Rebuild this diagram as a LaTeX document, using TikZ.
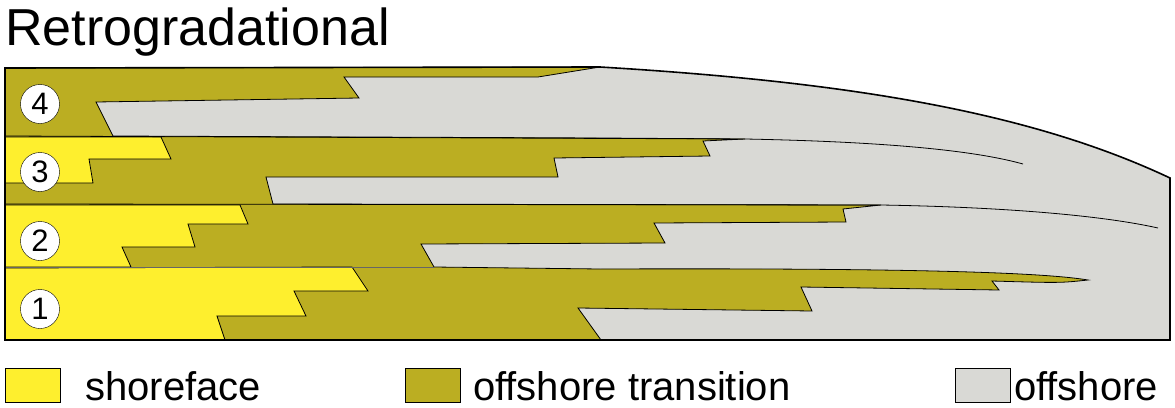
\documentclass[tikz,border=0pt]{standalone}
\usepackage{fontspec}
\setmainfont{Liberation Sans}
\usepackage{tikz}
\usetikzlibrary{calc}
\definecolor{shoreY}{HTML}{FEEF2E}
\definecolor{transO}{HTML}{BBAE22}
\definecolor{offG}{HTML}{D9D9D5}

\begin{document}
\begin{tikzpicture}[x=1pt,y=-1pt,
		unit/.style={circle,draw,fill=white,inner sep=0pt,minimum size=39pt,font=\fontsize{31}{31}\selectfont},
		legbox/.style={draw,line width=0.8pt},
		legtext/.style={anchor=west,inner sep=0pt,font=\fontsize{40}{40}\selectfont}]
	\useasboundingbox (0,0) rectangle (1175,407);
	\node[anchor=base west,inner sep=0pt,font=\fontsize{52}{52}\selectfont] (title) at (5,45) {Retrogradational};
	% offshore, the whole body
	\fill[offG] (5,68) -- (600,67) .. controls (850,82) and (1030,112) .. (1170,178) -- (1170,340) -- (5,340) -- cycle;
	% offshore transition
	\draw[fill=transO,line width=0.8pt] (5,68) -- (600,67) -- (538,77) -- (344,77) -- (359,98) -- (96,102) -- (113,136)
		-- (600,138) -- (745,139) -- (703,141) -- (710,156) -- (554,158) -- (558,177) -- (266,177) -- (273,204)
		-- (881,205) -- (843,209) -- (846,222) -- (654,223) -- (665,243) -- (421,244) -- (434,267)
		-- (600,269) .. controls (900,268) and (1040,272) .. (1088,280) .. controls (1060,283) .. (992,281)
		-- (999,290) -- (801,287) -- (812,311) -- (578,308) -- (601,340) -- (5,340) -- cycle;
	% shoreface
	\draw[fill=shoreY,line width=0.8pt] (5,137) -- (161,137) -- (171,159) -- (89,159) -- (93,183) -- (5,183);
	\draw[fill=shoreY,line width=0.8pt] (5,205) -- (240,205) -- (248,224) -- (188,224) -- (195,247) -- (122,247) -- (131,267) -- (5,267);
	\draw[fill=shoreY,line width=0.8pt] (5,268) -- (352,267) -- (368,291) -- (294,291) -- (306,316) -- (217,316) -- (225,340) -- (5,340);
	% bounding surfaces
	\draw[line width=0.8pt] (5,136) -- (745,139) .. controls (900,142) and (980,152) .. (1023,164);
	\draw[line width=0.8pt] (5,204) -- (881,205) .. controls (1000,207) and (1100,215) .. (1158,228);
	\draw[gray!80!black,line width=0.8pt] (5,267) -- (434,267);
	\draw[line width=1.6pt] (5,68) -- (600,67) .. controls (850,82) and (1030,112) .. (1170,178) -- (1170,340) -- (5,340) -- cycle;
	% units
	\node[unit] (u4) at (40,104) {4};
	\node[unit] (u3) at (40,172) {3};
	\node[unit] (u2) at (40,241) {2};
	\node[unit] (u1) at (40,309) {1};
	% legend
	\draw[legbox,fill=shoreY] (5,368) rectangle (60,402);
	\node[legtext] (lshore) at (85,386) {shoreface};
	\draw[legbox,fill=transO] (405,368) rectangle (460,402);
	\node[legtext] (ltrans) at (473,386) {offshore transition};
	\draw[legbox,fill=offG] (955,368) rectangle (1010,402);
	\node[legtext] (loff) at (1014,386) {offshore};
\end{tikzpicture}
\end{document}
